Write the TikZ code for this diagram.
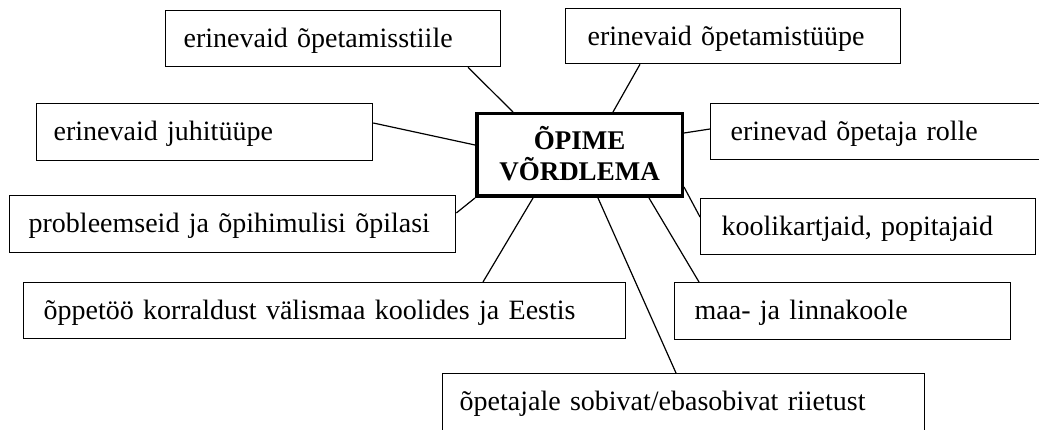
\documentclass[tikz,border=0pt]{standalone}
\usepackage{fontspec}
\setmainfont{Liberation Serif}
\usetikzlibrary{calc}
\begin{document}
\begin{tikzpicture}[x=1pt,y=-1pt,
  leaf/.style={draw, line width=1.3pt, anchor=north west, inner ysep=0pt,
    text height=37pt, align=left, font=\fontsize{28}{31}\selectfont},
  hub/.style={draw, line width=3.5pt, anchor=north west, inner xsep=0pt, inner ysep=0pt,
    minimum width=205.5pt, text height=67.25pt, text depth=15.25pt, align=center,
    font=\bfseries\fontsize{27}{31}\selectfont},
  conn/.style={line width=1.2pt}]
\useasboundingbox (0,0) rectangle (1039,430);
\clip (0,0) rectangle (1039,430);
\node[hub] (M) at (475,112) {ÕPIME\\VÕRDLEMA};
\node[leaf, inner xsep=18pt, text width=299pt, text depth=19pt] (A) at (165,10) {erinevaid õpetamisstiile};
\node[leaf, inner xsep=22pt, text width=291pt, text depth=18pt] (B) at (565,8) {erinevaid õpetamistüüpe};
\node[leaf, inner xsep=17pt, text width=302pt, text depth=20pt] (C) at (36,103) {erinevaid juhitüüpe};
\node[leaf, inner xsep=19pt, text width=408pt, text depth=20pt] (D) at (9,195) {probleemseid ja õpihimulisi õpilasi};
\node[leaf, inner xsep=20pt, text width=562pt, text depth=19pt] (E) at (23,282) {õppetöö korraldust välismaa koolides ja Eestis};
\node[leaf, inner xsep=20pt, text width=360pt, text depth=19pt] (F) at (710,103) {erinevad õpetaja rolle};
\node[leaf, inner xsep=21pt, text width=293pt, text depth=19pt] (G) at (700,198) {koolikartjaid, popitajaid};
\node[leaf, inner xsep=20pt, text width=296pt, text depth=20pt] (H) at (674,282) {maa- ja linnakoole};
\node[leaf, inner xsep=17pt, text width=448pt, text depth=43pt] (I) at (442,373) {õpetajale sobivat/ebasobivat riietust};
\draw[conn] ($(A.south west)+(303,0)$) -- ($(M.north west)+(38,0)$);
\draw[conn] ($(B.south west)+(75,0)$) -- ($(M.north west)+(138,0)$);
\draw[conn] ($(C.north east)+(0,20)$) -- ($(M.north west)+(0,33)$);
\draw[conn] ($(D.north east)+(0,18)$) -- (M.south west);
\draw[conn] ($(E.north west)+(460,0)$) -- ($(M.south west)+(58,0)$);
\draw[conn] ($(I.north west)+(234,0)$) -- ($(M.south west)+(123,0)$);
\draw[conn] ($(H.north west)+(25,0)$) -- ($(M.south west)+(174,0)$);
\draw[conn] ($(G.north west)+(0,19)$) -- ($(M.north east)+(0,75)$);
\draw[conn] ($(F.north west)+(0,26)$) -- ($(M.north east)+(0,21)$);
\end{tikzpicture}
\end{document}
